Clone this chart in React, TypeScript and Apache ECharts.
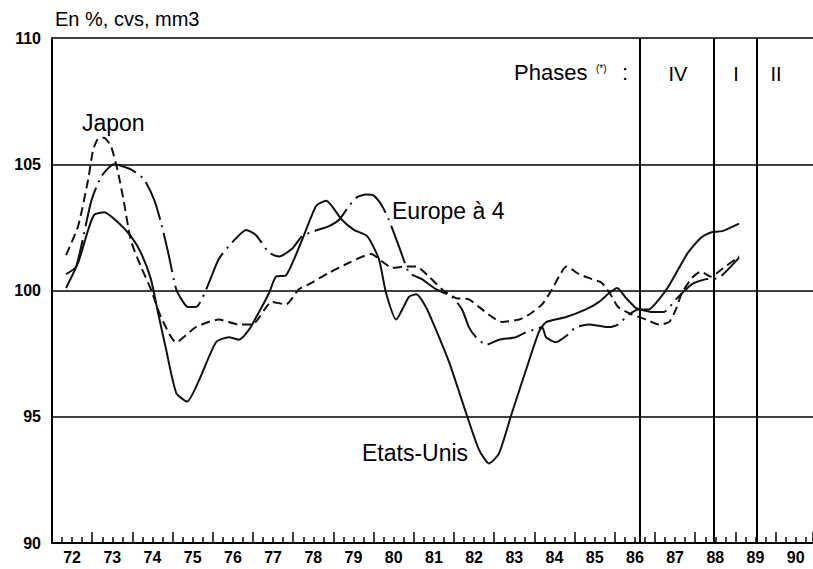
import React, { useEffect, useRef } from "react";
import * as echarts from "echarts";

// Tick labels (year midpoints)
const labelYears = [1972.5, 1973.5, 1974.5, 1975.5, 1976.5, 1977.5, 1978.5, 1979.5, 1980.5, 1981.5, 1982.5, 1983.5, 1984.5, 1985.5, 1986.5, 1987.5, 1988.5, 1989.5, 1990.5];

// Etats-Unis (solid)
const usYears = [1972.35, 1972.65, 1972.9, 1973.05, 1973.3, 1973.64, 1973.96, 1974.21, 1974.46, 1974.64, 1974.84, 1975.09, 1975.36, 1975.66, 1976.08, 1976.4, 1976.65, 1976.9, 1977.15, 1977.4, 1977.57, 1977.82, 1978.22, 1978.57, 1978.82, 1979.21, 1979.51, 1979.84, 1980.13, 1980.31, 1980.56, 1980.88, 1981.06, 1981.3, 1981.55, 1981.88, 1982.3, 1982.62, 1982.87, 1983.12, 1983.44, 1983.79, 1984.11, 1984.29, 1984.79, 1985.28, 1985.61, 1985.86, 1986.06, 1986.28, 1986.53, 1986.68, 1986.85, 1987.1, 1987.35, 1987.82, 1988.15, 1988.39, 1988.67, 1989.09];
const usValues = [100.1, 101.1, 102.4, 103.0, 103.1, 102.7, 102.15, 101.5, 100.45, 99.1, 97.65, 95.95, 95.6, 96.45, 97.95, 98.15, 98.05, 98.45, 99.15, 99.9, 100.55, 100.6, 102.0, 103.35, 103.55, 102.8, 102.4, 102.15, 101.25, 99.9, 98.85, 99.75, 99.85, 99.35, 98.45, 97.15, 95.15, 93.7, 93.15, 93.55, 95.15, 96.85, 98.35, 98.75, 98.95, 99.25, 99.55, 99.9, 100.1, 99.7, 99.3, 99.25, 99.25, 99.65, 100.2, 101.5, 102.1, 102.3, 102.35, 102.65];

// Japon (dashed)
const jpYears = [1972.35, 1972.65, 1972.9, 1973.02, 1973.14, 1973.29, 1973.47, 1973.64, 1973.79, 1973.96, 1974.21, 1974.46, 1974.71, 1975.09, 1975.58, 1976.15, 1976.65, 1976.98, 1977.47, 1977.82, 1978.14, 1978.39, 1978.89, 1979.39, 1979.94, 1980.21, 1980.46, 1980.81, 1981.06, 1981.38, 1981.7, 1982.05, 1982.37, 1982.62, 1982.95, 1983.19, 1983.62, 1983.87, 1984.19, 1984.44, 1984.61, 1984.79, 1985.11, 1985.43, 1985.68, 1985.93, 1986.08, 1986.43, 1986.78, 1987.1, 1987.35, 1987.52, 1987.67, 1987.92, 1988.14, 1988.39, 1988.67, 1989.09];
const jpValues = [101.4, 102.55, 104.4, 105.55, 106.0, 106.05, 105.7, 104.7, 103.5, 102.0, 100.95, 100.05, 98.95, 97.95, 98.55, 98.85, 98.65, 98.65, 99.55, 99.45, 100.05, 100.25, 100.7, 101.1, 101.45, 101.15, 100.9, 100.95, 100.95, 100.55, 100.05, 99.7, 99.65, 99.35, 98.95, 98.75, 98.85, 99.05, 99.45, 100.05, 100.55, 100.95, 100.65, 100.45, 100.3, 99.75, 99.35, 99.05, 98.85, 98.65, 98.75, 99.25, 99.9, 100.5, 100.75, 100.55, 100.85, 101.35];

// Europe à 4 (dash-dot)
const euYears = [1972.35, 1972.6, 1972.97, 1973.22, 1973.54, 1973.96, 1974.29, 1974.54, 1974.71, 1974.89, 1975.09, 1975.26, 1975.38, 1975.58, 1976.15, 1976.48, 1976.83, 1977.07, 1977.4, 1977.65, 1977.97, 1978.22, 1978.52, 1978.89, 1979.14, 1979.39, 1979.59, 1979.81, 1980.01, 1980.21, 1980.38, 1980.63, 1980.88, 1981.06, 1981.2, 1981.55, 1981.95, 1982.2, 1982.37, 1982.55, 1982.8, 1983.12, 1983.54, 1983.79, 1984.0, 1984.19, 1984.29, 1984.54, 1984.79, 1985.04, 1985.36, 1985.61, 1985.86, 1986.08, 1986.35, 1986.6, 1986.93, 1987.22, 1987.52, 1987.92, 1988.27, 1988.59, 1989.09];
const euValues = [100.65, 100.95, 103.5, 104.5, 105.0, 104.8, 104.4, 103.6, 102.7, 101.5, 100.05, 99.55, 99.35, 99.35, 101.25, 101.9, 102.4, 102.2, 101.5, 101.35, 101.65, 102.15, 102.35, 102.55, 102.8, 103.35, 103.7, 103.8, 103.75, 103.35, 102.8, 101.75, 100.7, 100.55, 100.45, 100.05, 99.75, 99.25, 98.55, 98.15, 97.85, 98.05, 98.15, 98.35, 98.45, 98.55, 98.15, 97.95, 98.2, 98.55, 98.65, 98.6, 98.55, 98.65, 99.05, 99.25, 99.15, 99.15, 99.65, 100.25, 100.45, 100.5, 101.3];

// Phase boundaries
const phaseLines = [1986.63, 1988.47, 1989.54];
const phaseNames = ["IV", "I", "II"];

const FONT = "'Liberation Sans', Arial, Helvetica, sans-serif";

function zip(xs: number[], ys: number[]) {
  return xs.map((x, i) => [x, ys[i]]);
}

export default function App() {
  const ref = useRef<HTMLDivElement>(null);
  useEffect(() => {
    document.body.style.margin = "0";
    const chart = echarts.init(ref.current!, null, { renderer: "svg" });
    const lineBase = { color: "#111", width: 2 };
    const phaseX = [678, 736, 776];
    chart.setOption({
      animation: false,
      backgroundColor: "#fff",
      grid: { left: 52, right: 0, top: 38, bottom: 26, containLabel: false },
      xAxis: {
        type: "value",
        min: 1972,
        max: 1990.93,
        interval: 1,
        axisLine: { show: true, onZero: false, lineStyle: { color: "#000", width: 2 } },
        axisTick: { show: true, inside: true, length: 11, lineStyle: { color: "#000", width: 1.5 } },
        minorTick: { show: true, splitNumber: 4, length: 6, lineStyle: { color: "#000", width: 1.5 } },
        splitLine: { show: false },
        minorSplitLine: { show: false },
        axisLabel: {
          show: true,
          customValues: labelYears,
          margin: 6,
          color: "#000",
          fontFamily: FONT,
          fontWeight: "bold",
          fontSize: 16,
          formatter: (v: number) => String(Math.floor(v) % 100),
        },
      },
      yAxis: {
        type: "value",
        min: 90,
        max: 110,
        interval: 5,
        axisLine: { show: true, lineStyle: { color: "#000", width: 2 } },
        axisTick: { show: false },
        splitLine: { show: true, lineStyle: { color: "#000", width: 1.6 } },
        axisLabel: {
          margin: 11,
          color: "#000",
          fontFamily: FONT,
          fontWeight: "bold",
          fontSize: 16,
        },
      },
      series: [
        {
          name: "Etats-Unis",
          type: "line",
          data: zip(usYears, usValues),
          symbol: "none",
          smooth: 0.2,
          lineStyle: { ...lineBase, type: "solid" },
          markLine: {
            silent: true,
            symbol: ["none", "none"],
            label: { show: false },
            lineStyle: { color: "#000", width: 2, type: "solid" },
            data: phaseLines.map((x) => ({ xAxis: x })),
          },
        },
        {
          name: "Japon",
          type: "line",
          data: zip(jpYears, jpValues),
          symbol: "none",
          smooth: 0.2,
          lineStyle: { ...lineBase, type: [9, 5] },
        },
        {
          name: "Europe à 4",
          type: "line",
          data: zip(euYears, euValues),
          symbol: "none",
          smooth: 0.2,
          lineStyle: { ...lineBase, type: [40, 6, 2, 6] },
        },
      ],
      graphic: [
        { type: "text", left: 55, top: 9, style: { text: "En %, cvs, mm3", font: `20px ${FONT}`, fill: "#000" } },
        { type: "text", left: 82, top: 111, style: { text: "Japon", font: `23px ${FONT}`, fill: "#000" } },
        { type: "text", left: 392, top: 199, style: { text: "Europe à 4", font: `23px ${FONT}`, fill: "#000" } },
        { type: "text", left: 362, top: 441, style: { text: "Etats-Unis", font: `23px ${FONT}`, fill: "#000" } },
        { type: "text", left: 514, top: 61, style: { text: "Phases", font: `22px ${FONT}`, fill: "#000" } },
        { type: "text", left: 596, top: 63, style: { text: "(*)", font: `10px ${FONT}`, fill: "#000" } },
        { type: "text", left: 622, top: 61, style: { text: ":", font: `22px ${FONT}`, fill: "#000" } },
        ...phaseNames.map((n, i) => ({
          type: "text",
          x: phaseX[i],
          y: 74,
          style: { text: n, font: `20px ${FONT}`, fill: "#000", align: "center", verticalAlign: "middle" },
        })),
      ],
    });
    return () => chart.dispose();
  }, []);
  return <div ref={ref} style={{ width: 813, height: 569 }} />;
}
